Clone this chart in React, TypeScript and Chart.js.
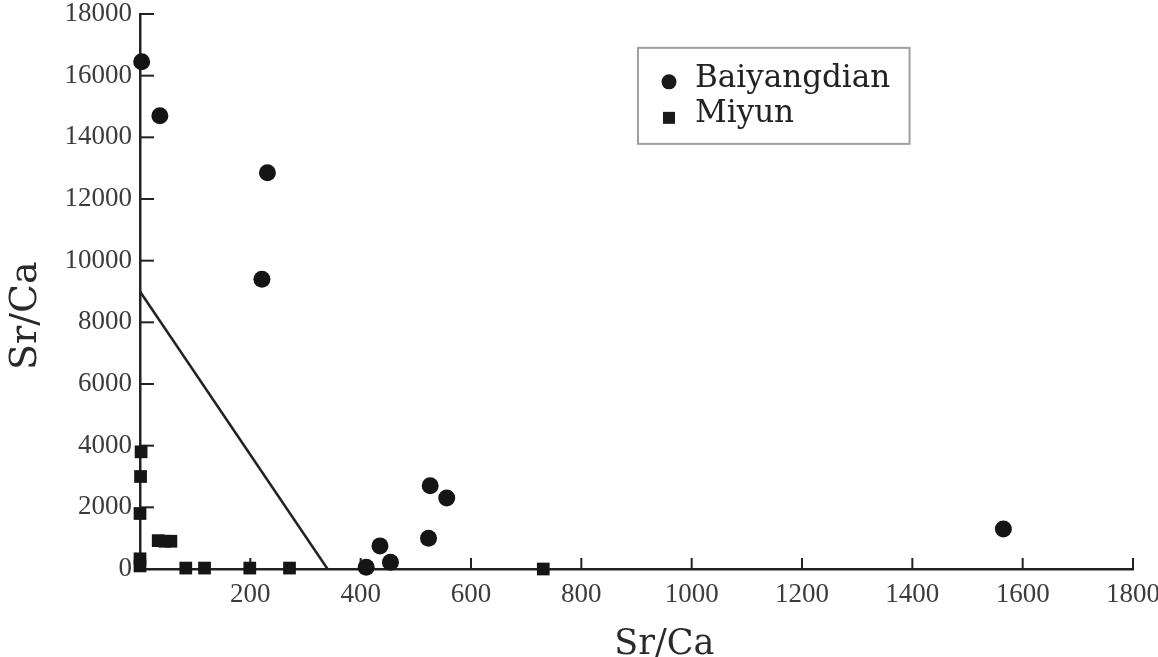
import React, { useEffect, useRef } from 'react';
import { Chart, registerables } from 'chart.js';

Chart.register(...registerables);

// ---- data ----
const seriesNames = ['Baiyangdian', 'Miyun'];
const baiyangdianX = [3, 36, 231, 221, 526, 556, 523, 435, 410, 454, 1565];
const baiyangdianY = [16450, 14700, 12850, 9400, 2700, 2300, 1000, 750, 60, 220, 1300];
const miyunX = [2, 1, 0, 33, 45, 56, 0, 0, 83, 117, 199, 271, 731];
const miyunY = [3800, 3000, 1800, 920, 900, 900, 330, 100, 30, 30, 30, 30, 0];
const boundaryX = [0, 340];
const boundaryY = [9000, 0];
const xTicksRange = { min: 0, max: 1800, step: 200 };
const yTicksRange = { min: 0, max: 18000, step: 2000 };
const xAxisTitle = 'Sr/Ca';
const yAxisTitle = 'Sr/Ca';

const toPoints = (xs: number[], ys: number[]) => xs.map((x, i) => ({ x, y: ys[i] }));

const inwardTicks = {
  id: 'inwardTicks',
  beforeDatasetsDraw(chart: any) {
    const { ctx, chartArea, scales } = chart;
    const xs = scales.x;
    const ys = scales.y;
    ctx.save();
    ctx.strokeStyle = '#222';
    ctx.lineWidth = 2;
    xs.ticks.forEach((t: any) => {
      const px = xs.getPixelForValue(t.value);
      ctx.beginPath();
      ctx.moveTo(px, chartArea.bottom);
      ctx.lineTo(px, chartArea.bottom - 11);
      ctx.stroke();
    });
    ys.ticks.forEach((t: any) => {
      const py = ys.getPixelForValue(t.value);
      ctx.beginPath();
      ctx.moveTo(chartArea.left, py);
      ctx.lineTo(chartArea.left + 14, py);
      ctx.stroke();
    });
    ctx.restore();
  },
};

const boxedLegend = {
  id: 'boxedLegend',
  afterDraw(chart: any) {
    const { ctx, chartArea: ca } = chart;
    const w = ca.right - ca.left;
    const h = ca.bottom - ca.top;
    const bx = ca.left + 0.5015 * w;
    const by = ca.top + 0.061 * h;
    const bw = 0.2735 * w;
    const bh = 0.173 * h;
    ctx.save();
    ctx.fillStyle = '#fff';
    ctx.fillRect(bx, by, bw, bh);
    ctx.strokeStyle = '#a0a0a0';
    ctx.lineWidth = 2;
    ctx.strokeRect(bx, by, bw, bh);
    const mx = bx + 31;
    const tx = bx + 57;
    ctx.fillStyle = '#1a1a1a';
    ctx.beginPath();
    ctx.arc(mx, by + 34, 7.5, 0, Math.PI * 2);
    ctx.fill();
    ctx.fillRect(mx - 6, by + 70 - 6, 12, 12);
    ctx.font = '31px "DejaVu Serif"';
    ctx.textBaseline = 'alphabetic';
    ctx.textAlign = 'left';
    ctx.fillStyle = '#222';
    ctx.fillText(chart.data.datasets[0].label, tx, by + 39);
    ctx.fillText(chart.data.datasets[1].label, tx, by + 74);
    ctx.restore();
  },
};

export default function App() {
  const canvasRef = useRef<HTMLCanvasElement | null>(null);

  useEffect(() => {
    document.body.style.margin = '0';
    const canvas = canvasRef.current;
    if (!canvas) return;
    const chart = new Chart(canvas, {
      type: 'scatter',
      data: {
        datasets: [
          {
            label: seriesNames[0],
            data: toPoints(baiyangdianX, baiyangdianY),
            pointStyle: 'circle',
            pointRadius: 8.5,
            backgroundColor: '#151515',
            borderColor: '#151515',
            borderWidth: 0,
            clip: false as any,
          },
          {
            label: seriesNames[1],
            data: toPoints(miyunX, miyunY),
            pointStyle: 'rect',
            pointRadius: 9,
            backgroundColor: '#151515',
            borderColor: '#151515',
            borderWidth: 0,
            clip: false as any,
          },
          {
            label: 'boundary',
            data: toPoints(boundaryX, boundaryY),
            showLine: true,
            pointRadius: 0,
            borderColor: '#222',
            borderWidth: 2.5,
            clip: false as any,
          } as any,
        ],
      },
      options: {
        animation: false,
        responsive: true,
        maintainAspectRatio: false,
        devicePixelRatio: 1,
        layout: { padding: { left: 0, right: 25, top: 14, bottom: 0 } },
        plugins: {
          legend: { display: false },
          tooltip: { enabled: false },
        },
        scales: {
          x: {
            type: 'linear',
            min: xTicksRange.min,
            max: xTicksRange.max,
            ticks: {
              stepSize: xTicksRange.step,
              padding: 10,
              color: '#3c3c3c',
              font: { family: '"Liberation Serif"', size: 27 },
              callback: (v: any) => (Number(v) === 0 ? '' : String(v)),
            },
            grid: { drawOnChartArea: false, drawTicks: false },
            border: { display: true, color: '#222', width: 2.5 },
            title: {
              display: true,
              text: '\u0020\u0020\u0020\u0020\u0020' + xAxisTitle,
              color: '#2a2a2a',
              font: { family: '"DejaVu Serif"', size: 35, lineHeight: 0.7 },
              padding: 0,
            },
            afterFit: (scale: any) => {
              scale.height = 88;
              scale.paddingLeft = 0;
              scale.paddingRight = 0;
            },
          },
          y: {
            type: 'linear',
            min: yTicksRange.min,
            max: yTicksRange.max,
            ticks: {
              stepSize: yTicksRange.step,
              padding: 8,
              color: '#3c3c3c',
              font: { family: '"Liberation Serif"', size: 27 },
              callback: (v: any) => String(v),
            },
            grid: { drawOnChartArea: false, drawTicks: false },
            border: { display: true, color: '#222', width: 2.5 },
            title: {
              display: true,
              text: yAxisTitle + '\u0020\u0020\u0020\u0020',
              color: '#2a2a2a',
              font: { family: '"DejaVu Serif"', size: 38, lineHeight: 1 },
              padding: { top: 7, bottom: 0 },
            },
            afterFit: (scale: any) => {
              scale.width = 140;
              scale.paddingTop = 0;
              scale.paddingBottom = 0;
            },
          },
        },
      },
      plugins: [inwardTicks, boxedLegend],
    });
    return () => chart.destroy();
  }, []);

  return (
    <div style={{ position: 'absolute', left: 0, top: 0, width: '1158px', height: '657px', background: '#fff' }}>
      <canvas ref={canvasRef} />
    </div>
  );
}
